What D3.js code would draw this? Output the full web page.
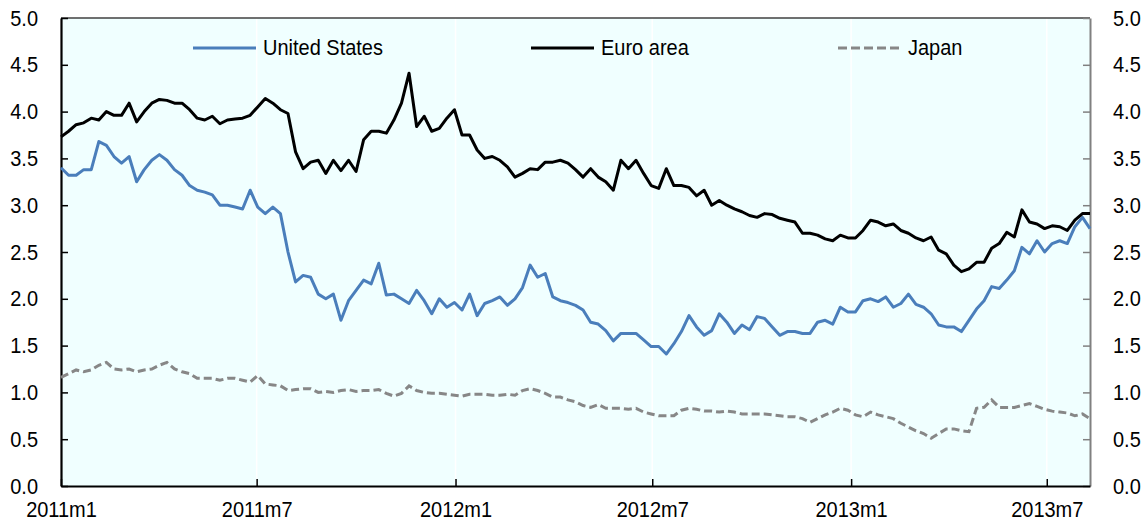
<!DOCTYPE html>
<html lang="en">
<head>
<meta charset="UTF-8">
<title>Long-term interest rates</title>
<style>
  * { box-sizing: border-box; }
  body { margin: 0; background: #fff; font-family: 'Liberation Sans', Arial, sans-serif; }
  svg text { font-family: 'Liberation Sans', Arial, sans-serif; fill: #000; }
</style>
</head>
<body>
<svg id="chart" width="1145" height="524"></svg>
<script src="https://cdn.jsdelivr.net/npm/d3@7"></script>
<script>
// weekly observations, first one on 1 Jan 2011
var startDate = new Date(2011, 0, 1);
var endDate   = new Date(2013, 7, 10);

var unitedStates = [
  3.40, 3.32, 3.32, 3.38, 3.38, 3.68, 3.64, 3.52, 3.45, 3.52,
  3.25, 3.38, 3.48, 3.54, 3.48, 3.38, 3.32, 3.21, 3.16, 3.14,
  3.11, 3.00, 3.00, 2.98, 2.96, 3.16, 2.98, 2.91, 2.98, 2.91,
  2.50, 2.18, 2.25, 2.23, 2.05, 2.00, 2.05, 1.77, 1.98, 2.09,
  2.20, 2.16, 2.38, 2.04, 2.05, 2.00, 1.95, 2.09, 1.98, 1.84,
  2.00, 1.91, 1.96, 1.88, 2.05, 1.82, 1.95, 1.98, 2.02, 1.93,
  2.00, 2.12, 2.36, 2.23, 2.27, 2.02, 1.98, 1.96, 1.93, 1.88,
  1.75, 1.73, 1.66, 1.55, 1.63, 1.63, 1.63, 1.56, 1.49, 1.49,
  1.41, 1.52, 1.65, 1.82, 1.70, 1.61, 1.66, 1.84, 1.75, 1.63,
  1.72, 1.67, 1.81, 1.79, 1.70, 1.61, 1.65, 1.65, 1.63, 1.63,
  1.75, 1.77, 1.73, 1.91, 1.86, 1.86, 1.98, 2.00, 1.97, 2.02,
  1.91, 1.95, 2.05, 1.94, 1.91, 1.84, 1.72, 1.70, 1.70, 1.65,
  1.77, 1.89, 1.98, 2.13, 2.11, 2.20, 2.30, 2.55, 2.48, 2.62,
  2.50, 2.59, 2.62, 2.59, 2.77, 2.87, 2.75
];

var euroArea = [
  3.73, 3.79, 3.86, 3.88, 3.93, 3.91, 4.00, 3.96, 3.96, 4.09,
  3.89, 4.00, 4.09, 4.13, 4.12, 4.09, 4.09, 4.02, 3.93, 3.91,
  3.95, 3.87, 3.91, 3.92, 3.93, 3.96, 4.05, 4.14, 4.09, 4.02,
  3.98, 3.57, 3.39, 3.46, 3.48, 3.34, 3.48, 3.37, 3.48, 3.36,
  3.70, 3.79, 3.79, 3.77, 3.91, 4.09, 4.41, 3.84, 3.95, 3.79,
  3.82, 3.93, 4.02, 3.75, 3.75, 3.59, 3.50, 3.52, 3.48, 3.41,
  3.30, 3.34, 3.39, 3.38, 3.46, 3.46, 3.48, 3.45, 3.38, 3.30,
  3.39, 3.30, 3.25, 3.16, 3.48, 3.39, 3.48, 3.34, 3.21, 3.18,
  3.39, 3.21, 3.21, 3.19, 3.10, 3.16, 3.00, 3.05, 3.00, 2.96,
  2.93, 2.89, 2.87, 2.91, 2.90, 2.86, 2.84, 2.82, 2.70, 2.70,
  2.68, 2.64, 2.62, 2.68, 2.65, 2.65, 2.73, 2.84, 2.82, 2.78,
  2.80, 2.73, 2.70, 2.65, 2.62, 2.66, 2.52, 2.48, 2.36, 2.29,
  2.32, 2.39, 2.39, 2.54, 2.59, 2.71, 2.66, 2.95, 2.82, 2.80,
  2.75, 2.78, 2.77, 2.73, 2.84, 2.91, 2.91
];

var japan = [
  1.16, 1.20, 1.24, 1.22, 1.24, 1.29, 1.32, 1.25, 1.24, 1.25,
  1.22, 1.24, 1.25, 1.29, 1.32, 1.25, 1.22, 1.20, 1.15, 1.15,
  1.15, 1.13, 1.15, 1.15, 1.13, 1.11, 1.18, 1.09, 1.08, 1.07,
  1.02, 1.03, 1.04, 1.04, 1.00, 1.01, 1.00, 1.02, 1.03, 1.01,
  1.02, 1.02, 1.03, 0.99, 0.96, 0.99, 1.07, 1.02, 1.00, 0.99,
  0.99, 0.98, 0.97, 0.96, 0.98, 0.98, 0.98, 0.97, 0.97, 0.98,
  0.97, 1.02, 1.04, 1.02, 0.99, 0.95, 0.95, 0.92, 0.90, 0.86,
  0.84, 0.87, 0.83, 0.83, 0.83, 0.82, 0.83, 0.79, 0.77, 0.75,
  0.75, 0.75, 0.81, 0.83, 0.82, 0.80, 0.80, 0.79, 0.80, 0.79,
  0.77, 0.77, 0.77, 0.77, 0.76, 0.75, 0.74, 0.74, 0.72, 0.68,
  0.72, 0.76, 0.79, 0.83, 0.81, 0.76, 0.74, 0.79, 0.76, 0.74,
  0.72, 0.67, 0.63, 0.59, 0.56, 0.51, 0.56, 0.61, 0.61, 0.59,
  0.58, 0.83, 0.84, 0.92, 0.84, 0.84, 0.84, 0.86, 0.88, 0.85,
  0.82, 0.80, 0.79, 0.78, 0.75, 0.77, 0.72
];

var yTicks = [0, 0.5, 1, 1.5, 2, 2.5, 3, 3.5, 4, 4.5, 5];
var xTicks = [new Date(2011, 0, 1), new Date(2011, 6, 1), new Date(2012, 0, 1),
              new Date(2012, 6, 1), new Date(2013, 0, 1), new Date(2013, 6, 1)];
var xTickLabels = ['2011m1', '2011m7', '2012m1', '2012m7', '2013m1', '2013m7'];

var seriesNames  = ['United States', 'Euro area', 'Japan'];
var seriesColors = ['#4a7ebb', '#000000', '#878787'];

(function () {
  var dates = unitedStates.map(function (v, i) { return d3.timeDay.offset(startDate, 7 * i); });

  var plotL = 61, plotR = 1090, plotT = 18, plotB = 486;
  var stretch = 'scale(1,1.12)';   // tick labels in the original look a bit tall

  var svg = d3.select('#chart');

  var x = d3.scaleTime().domain([startDate, endDate]).range([plotL, plotR]);
  var y = d3.scaleLinear().domain([0, 5]).range([plotB, plotT]);

  svg.append('rect')
    .attr('x', plotL).attr('y', plotT)
    .attr('width', plotR - plotL).attr('height', plotB - plotT)
    .attr('fill', '#f0ffff');

  // faint vertical lines at the month ticks
  svg.append('g').selectAll('line')
    .data(xTicks.slice(1))
    .join('line')
    .attr('x1', function (d) { return x(d); }).attr('x2', function (d) { return x(d); })
    .attr('y1', plotT).attr('y2', plotB)
    .attr('stroke', '#ffffff').attr('stroke-width', 1.5);

  // top border
  svg.append('line')
    .attr('x1', plotL).attr('x2', plotR).attr('y1', plotT).attr('y2', plotT)
    .attr('stroke', '#404040').attr('stroke-width', 1.5);

  var gLeft = svg.append('g')
    .attr('transform', 'translate(' + plotL + ',0)')
    .call(d3.axisLeft(y).tickValues(yTicks).tickFormat(d3.format('.1f'))
          .tickSizeInner(-7).tickSizeOuter(0).tickPadding(23));

  var gRight = svg.append('g')
    .attr('transform', 'translate(' + plotR + ',0)')
    .call(d3.axisRight(y).tickValues(yTicks).tickFormat(d3.format('.1f'))
          .tickSizeInner(-7).tickSizeOuter(0).tickPadding(23));

  var gBottom = svg.append('g')
    .attr('transform', 'translate(0,' + plotB + ')')
    .call(d3.axisBottom(x).tickValues(xTicks)
          .tickFormat(function (d, i) { return xTickLabels[i]; })
          .tickSizeInner(-7).tickSizeOuter(0).tickPadding(13.5));

  [gLeft, gRight, gBottom].forEach(function (g) {
    g.selectAll('text').attr('font-size', 20).attr('fill', '#000').attr('transform', stretch);
    g.selectAll('.tick line').attr('stroke-width', 1.5);
  });
  gLeft.select('.domain').attr('stroke', '#000').attr('stroke-width', 2.2);
  gBottom.select('.domain').attr('stroke', '#000').attr('stroke-width', 2.2);
  gBottom.selectAll('.tick line').attr('stroke', '#000');
  gRight.select('.domain').attr('stroke', '#808080').attr('stroke-width', 2);
  gRight.selectAll('.tick line').attr('stroke', '#808080');

  var line = d3.line()
    .x(function (d) { return x(d[0]); })
    .y(function (d) { return y(d[1]); });

  function pairs(values) { return values.map(function (v, i) { return [dates[i], v]; }); }

  svg.append('path')
    .datum(pairs(japan))
    .attr('d', line)
    .attr('fill', 'none')
    .attr('stroke', seriesColors[2])
    .attr('stroke-width', 3)
    .attr('stroke-dasharray', '8,4');

  svg.append('path')
    .datum(pairs(unitedStates))
    .attr('d', line)
    .attr('fill', 'none')
    .attr('stroke', seriesColors[0])
    .attr('stroke-width', 3)
    .attr('stroke-linejoin', 'round');

  svg.append('path')
    .datum(pairs(euroArea))
    .attr('d', line)
    .attr('fill', 'none')
    .attr('stroke', seriesColors[1])
    .attr('stroke-width', 3)
    .attr('stroke-linejoin', 'round');

  // legend
  var legendX = [193, 531, 838];
  var legend = svg.append('g');
  seriesNames.forEach(function (name, i) {
    legend.append('line')
      .attr('x1', legendX[i]).attr('x2', legendX[i] + 63)
      .attr('y1', 48).attr('y2', 48)
      .attr('stroke', seriesColors[i])
      .attr('stroke-width', 3)
      .attr('stroke-dasharray', i === 2 ? '9,4' : null);
    legend.append('text')
      .attr('transform', 'translate(' + (legendX[i] + 70) + ',55) ' + stretch)
      .attr('font-size', 20)
      .text(name);
  });
})();
</script>
</body>
</html>
